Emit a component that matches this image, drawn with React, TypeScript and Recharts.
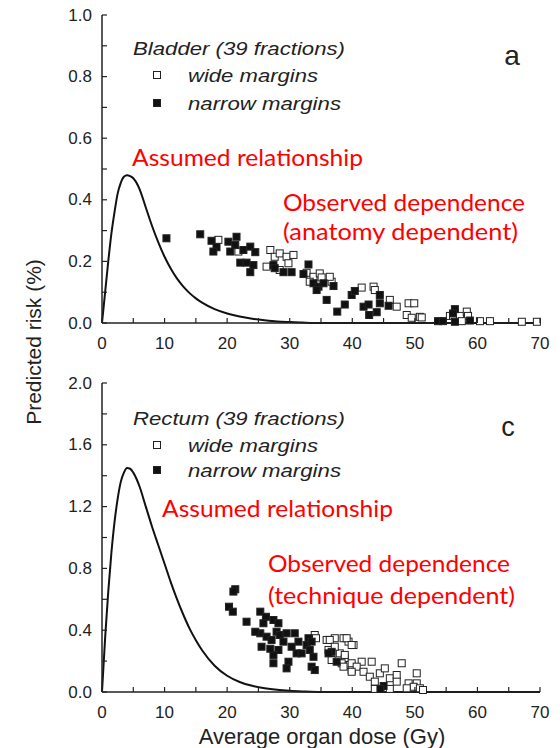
import React from 'react';
import { ComposedChart, Line, Scatter, XAxis, YAxis } from 'recharts';

// dose grid used by the "assumed relationship" curves (Gy)
const curveDose = [0, 0.5, 1, 1.5, 2, 2.5, 3, 3.5, 4, 4.5, 5, 6, 7, 8, 9, 10, 11, 12, 13, 14, 15, 16, 18, 20, 22, 24, 26, 28, 30, 32, 35, 70];
const bladderCurveRisk = [0, 0.1, 0.2, 0.29, 0.36, 0.42, 0.455, 0.475, 0.48, 0.477, 0.47, 0.435, 0.375, 0.315, 0.262, 0.215, 0.176, 0.144, 0.118, 0.097, 0.08, 0.066, 0.045, 0.031, 0.021, 0.014, 0.009, 0.005, 0.003, 0.0015, 0, 0];
const rectumCurveRisk = [0, 0.35, 0.65, 0.9, 1.1, 1.25, 1.36, 1.42, 1.45, 1.445, 1.42, 1.33, 1.2, 1.07, 0.95, 0.83, 0.71, 0.6, 0.5, 0.41, 0.335, 0.27, 0.17, 0.105, 0.065, 0.04, 0.024, 0.014, 0.008, 0.004, 0, 0];

// [dose, risk] pairs
const bladderWide = [
  [18.6, 0.27], [21.8, 0.232], [26.9, 0.237], [27.6, 0.215], [28.4, 0.226], [29.5, 0.215], [30.6, 0.221],
  [29.8, 0.194], [26.3, 0.183], [28.4, 0.172], [32.7, 0.163], [33.8, 0.15], [34.8, 0.161], [35.1, 0.148],
  [36.7, 0.134], [33.2, 0.134], [36.4, 0.15], [41.5, 0.115], [43.4, 0.118], [43.6, 0.107], [46.0, 0.075],
  [47.1, 0.053], [49.0, 0.064], [49.9, 0.064], [48.7, 0.026], [49.5, 0.017], [50.8, 0.02], [51.1, 0.018],
  [55.6, 0.023], [56.1, 0.024], [57.2, 0.023], [58.3, 0.037], [58.5, 0.023], [57.5, 0.006], [60.4, 0.006],
  [62.0, 0.006], [67.1, 0.004], [69.5, 0.004],
];
const bladderNarrow = [
  [10.3, 0.275], [15.7, 0.288], [17.5, 0.267], [18.3, 0.246], [17.8, 0.232], [20.2, 0.264], [21.5, 0.28],
  [21.3, 0.253], [20.5, 0.232], [22.6, 0.237], [23.7, 0.248], [24.5, 0.23], [22.1, 0.196], [23.1, 0.196],
  [24.2, 0.188], [23.7, 0.165], [27.4, 0.188], [27.6, 0.178], [29.0, 0.165], [30.3, 0.165], [33.0, 0.19],
  [32.2, 0.159], [33.8, 0.129], [34.6, 0.118], [34.3, 0.107], [35.4, 0.129], [35.9, 0.075], [37.6, 0.037],
  [37.0, 0.12], [38.8, 0.06], [39.9, 0.091], [40.4, 0.104], [41.8, 0.053], [42.6, 0.06], [42.7, 0.026],
  [43.9, 0.035], [44.4, 0.091], [44.4, 0.064], [45.8, 0.056], [53.7, 0.006], [54.5, 0.006], [56.4, 0.045],
  [56.1, 0.031], [58.8, 0.008], [56.4, 0.004],
];
const rectumWide = [
  [34.0, 0.369], [34.2, 0.348], [35.9, 0.337], [37.2, 0.348], [38.6, 0.348], [39.4, 0.326], [40.2, 0.304],
  [36.2, 0.272], [38.0, 0.25], [38.8, 0.218], [38.3, 0.186], [39.6, 0.175], [39.9, 0.142], [36.4, 0.337],
  [39.1, 0.348], [39.9, 0.304], [37.2, 0.293], [38.8, 0.24], [36.7, 0.207], [39.9, 0.186], [41.5, 0.196],
  [43.1, 0.196], [40.7, 0.164], [38.6, 0.164], [39.9, 0.131], [41.8, 0.131], [42.8, 0.099], [44.4, 0.121],
  [45.2, 0.153], [47.9, 0.186], [43.6, 0.067], [46.0, 0.089], [47.1, 0.11], [47.1, 0.067], [49.0, 0.056],
  [50.3, 0.121], [50.3, 0.056], [49.8, 0.034], [50.8, 0.024], [51.3, 0.013], [48.7, 0.024], [46.0, 0.02],
  [43.6, 0.02],
];
const rectumNarrow = [
  [21.3, 0.665], [21.0, 0.65], [20.3, 0.552], [20.9, 0.52], [23.1, 0.455], [25.3, 0.52], [26.2, 0.487],
  [25.8, 0.445], [27.4, 0.466], [28.2, 0.445], [25.3, 0.38], [26.3, 0.358], [25.5, 0.293], [27.1, 0.337],
  [27.9, 0.39], [28.4, 0.369], [29.5, 0.38], [28.2, 0.272], [27.4, 0.24], [27.4, 0.186], [29.8, 0.196],
  [29.5, 0.153], [30.8, 0.38], [31.4, 0.326], [31.1, 0.25], [31.9, 0.25], [33.0, 0.348], [32.7, 0.304],
  [33.5, 0.326], [33.2, 0.272], [33.8, 0.228], [33.5, 0.164], [34.0, 0.142], [24.5, 0.39], [26.9, 0.28],
  [29.0, 0.326], [30.3, 0.293], [36.7, 0.26], [37.5, 0.196], [36.2, 0.25], [45.0, 0.039], [44.5, 0.02],
];

const doseTicks = [0, 5, 10, 15, 20, 25, 30, 35, 40, 45, 50, 55, 60, 65, 70];
const bladderTicks = [0, 0.1, 0.2, 0.3, 0.4, 0.5, 0.6, 0.7, 0.8, 0.9, 1.0];
const rectumTicks = [0, 0.2, 0.4, 0.6, 0.8, 1.0, 1.2, 1.4, 1.6, 1.8, 2.0];

const toPoints = (pairs: number[][]) => pairs.map(([x, y]) => ({ x, y }));
const toCurve = (ys: number[]) => curveDose.map((x, i) => ({ x, y: ys[i] }));

const AXIS = '#222';
const FONT = "'Liberation Sans', Arial, Helvetica, sans-serif";
const RED_FONT = "Lato, 'Open Sans', sans-serif";
const TICK_LEN = 5;

const near = (v: number, step: number) => Math.abs(v / step - Math.round(v / step)) < 1e-6;

const tickFont = { fontFamily: FONT, fontSize: 17 };

const BottomTick = (props: any) => {
  const { x, y, payload } = props;
  const v = payload.value;
  return (
    <g>
      <line x1={x} y1={y} x2={x} y2={y - TICK_LEN} stroke={AXIS} strokeWidth={1.2} />
      {near(v, 10) && (
        <text x={x} y={y + 20} textAnchor="middle" dominantBaseline="central" fill={AXIS} style={tickFont}>
          {v}
        </text>
      )}
    </g>
  );
};

const TopTick = (props: any) => {
  const { x, y } = props;
  return <line x1={x} y1={y} x2={x} y2={y + TICK_LEN} stroke={AXIS} strokeWidth={1.2} />;
};

const makeLeftTick = (labelStep: number) => (props: any) => {
  const { x, y, payload } = props;
  const v = payload.value;
  return (
    <g>
      <line x1={x} y1={y} x2={x + TICK_LEN} y2={y} stroke={AXIS} strokeWidth={1.2} />
      {near(v, labelStep) && (
        <text x={x - 10} y={y} textAnchor="end" dominantBaseline="central" fill={AXIS} style={tickFont}>
          {v.toFixed(1)}
        </text>
      )}
    </g>
  );
};

const RightTick = (props: any) => {
  const { x, y } = props;
  return <line x1={x} y1={y} x2={x - TICK_LEN} y2={y} stroke={AXIS} strokeWidth={1.2} />;
};

const square = (filled: boolean) => (props: any) => (
  <rect
    x={props.cx - 3.5}
    y={props.cy - 3.5}
    width={7}
    height={7}
    fill={filled ? '#111' : '#fff'}
    stroke="#222"
    strokeWidth={1}
  />
);

interface PanelProps {
  top: number;
  height: number;
  margin: { top: number; right: number; bottom: number; left: number };
  yMax: number;
  yTicks: number[];
  labelStep: number;
  curve: number[];
  wide: number[][];
  narrow: number[][];
}

function Panel({ top, height, margin, yMax, yTicks, labelStep, curve, wide, narrow }: PanelProps) {
  return (
    <div style={{ position: 'absolute', left: 0, top, width: 560, height }}>
      <ComposedChart width={560} height={height} margin={margin}>
        <XAxis
          xAxisId="b"
          type="number"
          dataKey="x"
          domain={[0, 70]}
          ticks={doseTicks}
          interval={0}
          tickSize={0}
          tickMargin={0}
          height={30}
          axisLine={{ stroke: AXIS, strokeWidth: 1.5 }}
          tickLine={false}
          tick={BottomTick}
        />
        <XAxis
          xAxisId="t"
          orientation="top"
          type="number"
          dataKey="x"
          domain={[0, 70]}
          ticks={doseTicks}
          interval={0}
          tickSize={0}
          tickMargin={0}
          height={0}
          axisLine={{ stroke: AXIS, strokeWidth: 1.5 }}
          tickLine={false}
          tick={TopTick}
        />
        <YAxis
          yAxisId="l"
          type="number"
          dataKey="y"
          domain={[0, yMax]}
          ticks={yTicks}
          interval={0}
          tickSize={0}
          tickMargin={0}
          width={60}
          axisLine={{ stroke: AXIS, strokeWidth: 1.5 }}
          tickLine={false}
          tick={makeLeftTick(labelStep)}
        />
        <YAxis
          yAxisId="r"
          orientation="right"
          type="number"
          dataKey="y"
          domain={[0, yMax]}
          ticks={yTicks}
          interval={0}
          tickSize={0}
          tickMargin={0}
          width={0}
          axisLine={{ stroke: AXIS, strokeWidth: 1.5 }}
          tickLine={false}
          tick={RightTick}
        />
        <Line
          xAxisId="b"
          yAxisId="l"
          data={toCurve(curve)}
          dataKey="y"
          type="monotone"
          stroke="#111"
          strokeWidth={2}
          dot={false}
          isAnimationActive={false}
        />
        <Scatter xAxisId="b" yAxisId="l" data={toPoints(wide)} shape={square(false)} isAnimationActive={false} />
        <Scatter xAxisId="b" yAxisId="l" data={toPoints(narrow)} shape={square(true)} isAnimationActive={false} />
      </ComposedChart>
    </div>
  );
}

const legendStyle = { fontFamily: FONT, fontStyle: 'italic', fontSize: 19 };
const redStyle = { fontFamily: RED_FONT, fontSize: 23 };
const plainStyle = (size: number) => ({ fontFamily: FONT, fontSize: size });

export default function App() {
  return (
    <div style={{ position: 'absolute', left: 0, top: 0, width: 560, height: 748, background: '#fff', overflow: 'hidden' }}>
      <Panel
        top={0}
        height={360}
        margin={{ top: 15, right: 20, bottom: 7, left: 42 }}
        yMax={1}
        yTicks={bladderTicks}
        labelStep={0.2}
        curve={bladderCurveRisk}
        wide={bladderWide}
        narrow={bladderNarrow}
      />
      <Panel
        top={360}
        height={388}
        margin={{ top: 23, right: 20, bottom: 26, left: 42 }}
        yMax={2}
        yTicks={rectumTicks}
        labelStep={0.4}
        curve={rectumCurveRisk}
        wide={rectumWide}
        narrow={rectumNarrow}
      />
      <svg width={560} height={748} style={{ position: 'absolute', left: 0, top: 0, pointerEvents: 'none' }}>
        {/* panel a */}
        <text x={133} y={48} dominantBaseline="central" textLength={212} lengthAdjust="spacingAndGlyphs" fill="#222" style={legendStyle}>Bladder (39 fractions)</text>
        <rect x={153.5} y={71.5} width={7} height={7} fill="#fff" stroke="#222" />
        <text x={188} y={75} dominantBaseline="central" textLength={130} lengthAdjust="spacingAndGlyphs" fill="#222" style={legendStyle}>wide margins</text>
        <rect x={153.5} y={99.5} width={7} height={7} fill="#111" stroke="#222" />
        <text x={188} y={103} dominantBaseline="central" textLength={153} lengthAdjust="spacingAndGlyphs" fill="#222" style={legendStyle}>narrow margins</text>
        <text x={512} y={55} textAnchor="middle" dominantBaseline="central" fill="#222" style={plainStyle(28)}>a</text>
        <text x={132} y={157} dominantBaseline="central" textLength={231} lengthAdjust="spacingAndGlyphs" fill="#ff0000" style={redStyle}>Assumed relationship</text>
        <text x={283} y={202} dominantBaseline="central" textLength={242} lengthAdjust="spacingAndGlyphs" fill="#ff0000" style={redStyle}>Observed dependence</text>
        <text x={283} y={231} dominantBaseline="central" textLength={235} lengthAdjust="spacingAndGlyphs" fill="#ff0000" style={redStyle}>(anatomy dependent)</text>

        {/* panel c */}
        <text x={133} y={418} dominantBaseline="central" textLength={212} lengthAdjust="spacingAndGlyphs" fill="#222" style={legendStyle}>Rectum (39 fractions)</text>
        <rect x={153.5} y={441.5} width={7} height={7} fill="#fff" stroke="#222" />
        <text x={188} y={445} dominantBaseline="central" textLength={130} lengthAdjust="spacingAndGlyphs" fill="#222" style={legendStyle}>wide margins</text>
        <rect x={153.5} y={466.5} width={7} height={7} fill="#111" stroke="#222" />
        <text x={188} y={470} dominantBaseline="central" textLength={153} lengthAdjust="spacingAndGlyphs" fill="#222" style={legendStyle}>narrow margins</text>
        <text x={508} y={427} textAnchor="middle" dominantBaseline="central" fill="#222" style={plainStyle(27)}>c</text>
        <text x={162} y={508} dominantBaseline="central" textLength={231} lengthAdjust="spacingAndGlyphs" fill="#ff0000" style={redStyle}>Assumed relationship</text>
        <text x={268} y={563} dominantBaseline="central" textLength={242} lengthAdjust="spacingAndGlyphs" fill="#ff0000" style={redStyle}>Observed dependence</text>
        <text x={268} y={595} dominantBaseline="central" textLength={247} lengthAdjust="spacingAndGlyphs" fill="#ff0000" style={redStyle}>(technique dependent)</text>

        {/* axis titles */}
        <text x={322} y={736} textAnchor="middle" dominantBaseline="central" fill="#222" style={plainStyle(22)}>
          Average organ dose (Gy)
        </text>
        <text
          x={33}
          y={342}
          transform="rotate(-90 33 342)"
          textAnchor="middle"
          dominantBaseline="central"
          fill="#222"
          style={plainStyle(21)}
        >
          Predicted risk (%)
        </text>
      </svg>
    </div>
  );
}
